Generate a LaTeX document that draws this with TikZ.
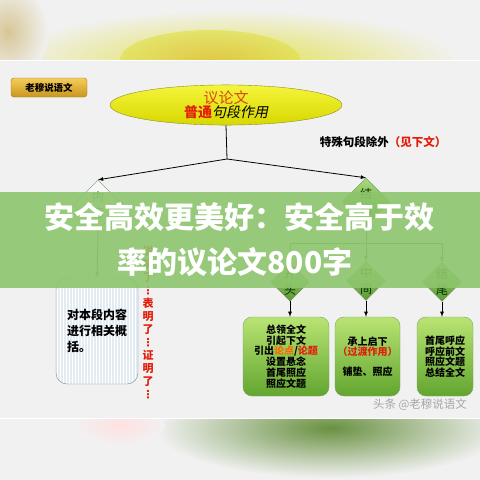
\documentclass[tikz,border=0pt]{standalone}
\usepackage{fontspec}
\setmainfont{Noto Sans CJK SC}
\newfontfamily\slcjk{Noto Sans CJK SC}[FakeSlant=0.2]
\newfontfamily\sym{DejaVu Sans}
\usetikzlibrary{shapes.geometric}
\usetikzlibrary{arrows}
\usetikzlibrary{positioning}
\usetikzlibrary{patterns}
\definecolor{bg}{RGB}{241,241,241}
\definecolor{dgreen}{RGB}{70,120,45}
\definecolor{lwred}{RGB}{220,70,20}
\definecolor{ptred}{RGB}{225,30,10}
\definecolor{banner}{RGB}{141,197,108}
\definecolor{diatop}{RGB}{170,218,125}
\definecolor{diabot}{RGB}{92,150,52}
\definecolor{boxtop}{RGB}{185,228,115}
\definecolor{boxbot}{RGB}{98,165,48}
\begin{document}
\begin{tikzpicture}[x=1pt,y=-1pt,every node/.style={inner sep=0pt},
  dia/.style={diamond,aspect=1,draw=dgreen!80,top color=diatop,bottom color=diabot,minimum width=38pt,minimum height=38pt,align=center,text=green!20!black,font=\fontsize{12}{16}\selectfont},
  gbox/.style={draw=dgreen!70,rounded corners=9pt,top color=boxtop,bottom color=boxbot,minimum height=79pt,align=center,font=\bfseries\fontsize{10}{10.7}\selectfont},
  arr/.style={->,>=latex,thick}]
\useasboundingbox (0,0) rectangle (480,480);
\fill[bg] (0,0) rectangle (480,480);
% blurred strips top and bottom
\begin{scope}
\clip (0,0) rectangle (480,60);
\shade[inner color={rgb,255:red,225;green,225;blue,80},outer color=bg] (230,62) ellipse (230 and 52);
\shade[inner color={rgb,255:red,225;green,190;blue,60},outer color={rgb,255:red,225;green,225;blue,80},opacity=0.7] (210,60) ellipse (90 and 30);
\shade[inner color={rgb,255:red,215;green,198;blue,150},outer color=bg] (8,32) ellipse (40 and 50);
\end{scope}
\begin{scope}
\clip (0,418) rectangle (480,480);
\shade[inner color={rgb,255:red,105;green,145;blue,65},outer color=bg] (330,428) ellipse (175 and 50);
\shade[inner color=red!12,outer color=bg] (120,425) ellipse (45 and 20);
\end{scope}
\draw[white] (0,60) -- (480,60);
\draw[white] (0,418) -- (480,418);

\node[draw={rgb,255:red,160;green,120;blue,25},rounded corners=3pt,top color={rgb,255:red,245;green,205;blue,90},bottom color={rgb,255:red,200;green,150;blue,30},minimum width=76pt,minimum height=19pt,font=\bfseries\fontsize{9.5}{10}\selectfont] (logo) at (49,87.5) {老穆说语文};

\node[ellipse,draw={rgb,255:red,140;green,140;blue,40},top color={rgb,255:red,245;green,245;blue,60},bottom color={rgb,255:red,215;green,215;blue,0},minimum width=232pt,minimum height=40pt,align=center] (lw) at (226,105)
  {{\color{lwred}\fontsize{15}{17}\selectfont 议论文}\\[0pt]{\fontsize{14}{17}\selectfont{\color{ptred}\bfseries 普通}{\slcjk 句段作用}}};
\node[font=\bfseries\fontsize{11.5}{12}\selectfont] (ts) at (383,142) {特殊句段除外{\color{ptred}（见下文）}};

\coordinate (jc) at (227,159);
\node[diamond,aspect=1,draw=gray!80!green,fill=bg!60!white,minimum width=50pt,minimum height=50pt,align=center,text=dgreen,font=\fontsize{12}{16}\selectfont] (nr) at (98,205) {内\\容};
\node[dia,minimum width=48pt,minimum height=48pt] (jg) at (366,202) {结\\构};
\draw[thick] (lw.south) -- (jc);
\draw[arr] (jc) -- (nr.north);
\draw[arr] (jc) -- (jg.north);

\node[draw={rgb,255:red,125;green,140;blue,155},rounded corners=11pt,preaction={fill={rgb,255:red,228;green,236;blue,243}},pattern=vertical lines,pattern color=white,minimum width=82pt,minimum height=106pt] (nb) at (97,331) {};
\node[align=left,font=\bfseries\fontsize{12}{16}\selectfont] (nbt) at (nb.center) {对本段内容\\进行相关概\\括。};
\draw[arr,dgreen] (nr.south) -- (nb.north);
\node[align=center,text=ptred,font=\bfseries\fontsize{11}{13}\selectfont] (rc) at (148,323)
  {说\\明\\了\\{\sym ⋮}\\表\\明\\了\\{\sym ⋮}\\证\\明\\了\\{\sym ⋮}};

\coordinate (bm) at (366,243);
\coordinate (bl) at (290,243);
\coordinate (br) at (442,243);
\node[dia] (kt) at (290,282) {开\\头};
\node[dia] (zj) at (366,281) {中\\间};
\node[dia] (jw) at (442,282) {结\\尾};
\draw[thick,dgreen] (jg.south) -- (bm);
\draw[thick,dgreen] (bl) -- (br);
\draw[arr,dgreen] (bl) -- (kt.north);
\draw[arr,dgreen] (bm) -- (zj.north);
\draw[arr,dgreen] (br) -- (jw.north);

\node[gbox,minimum width=86pt] (b1) at (286,356.5)
  {总领全文\\引起下文\\引出{\color{orange!80!red}论点}/{\color{ptred}论题}\\设置悬念\\首尾照应\\照应文题};
\node[gbox,minimum width=65pt] (b2) at (367.5,356.5)
  {承上启下\\{\color{ptred}（过渡作用）}\\[9pt]铺垫、照应};
\node[gbox,minimum width=56pt] (b3) at (445,356.5)
  {首尾呼应\\呼应前文\\照应文题\\总结全文};
\draw[arr] (kt.south) -- (kt.south |- b1.north);
\draw[arr] (zj.south) -- (zj.south |- b2.north);
\draw[arr] (jw.south) -- (jw.south |- b3.north);

\node[text=gray!70,font=\fontsize{11.5}{12}\selectfont] (wm) at (420,405) {头条 @老穆说语文};

% green banner over the picture
\fill[banner,opacity=0.9] (0,192) rectangle (480,288);
\node[text=white,font=\bfseries\fontsize{30}{32}\selectfont] (bt1) at (240,217) {安全高效更美好：安全高于效};
\node[text=white,font=\bfseries\fontsize{30}{32}\selectfont] (bt2) at (235,262) {率的议论文800字};
\end{tikzpicture}
\end{document}
